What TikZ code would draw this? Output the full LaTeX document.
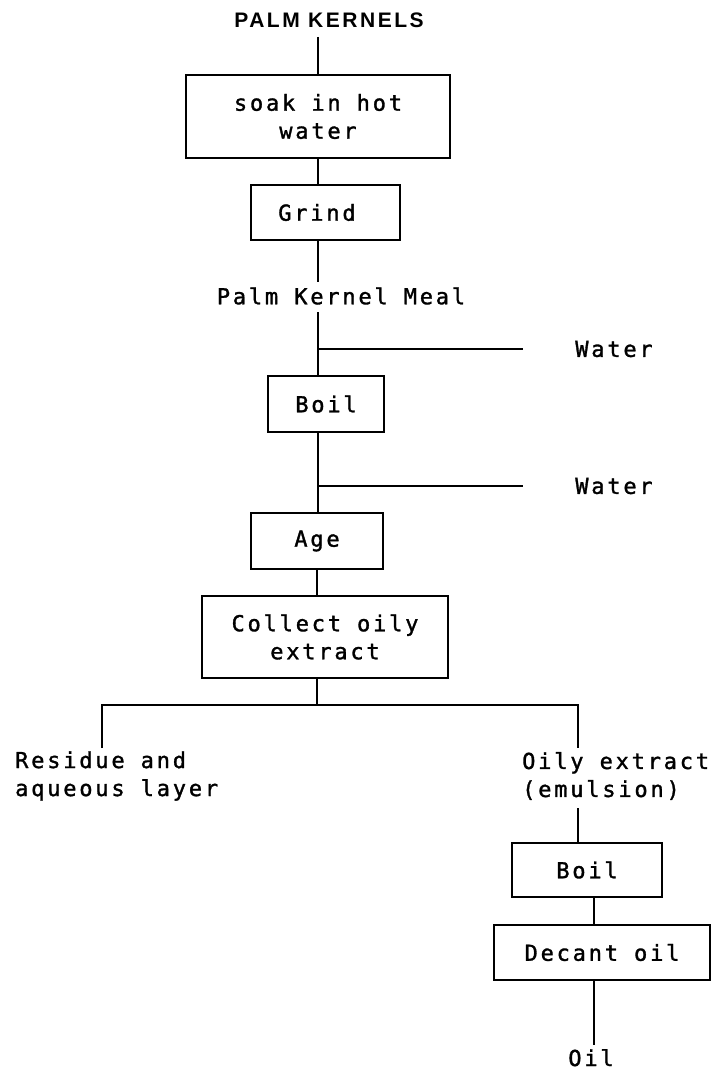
\documentclass[tikz,border=0pt]{standalone}
\usepackage{fontspec}
\newfontfamily\flowfont[LetterSpace=12.7,FakeBold=1.4]{DejaVu Sans Mono}
\newfontfamily\headfont[LetterSpace=12]{Liberation Sans}
\begin{document}
\begin{tikzpicture}[x=1pt,y=-1pt,
  every node/.style={inner sep=0pt, font=\flowfont\fontsize{22}{28}\selectfont},
  stepbox/.style={draw, line width=1.7pt, align=center},
  label text/.style={align=left, anchor=west},
  flow/.style={line width=1.7pt}]
\useasboundingbox[fill=white] (0,0) rectangle (721,1073);

% heading
\node[font=\headfont\bfseries\fontsize{21}{24}\selectfont] (title) at (329,20) {PALM KERNELS};

% process boxes
\node[stepbox, minimum width=264pt, minimum height=83pt] (soak) at (318,116.5) {soak in hot\\water};
\node[stepbox, minimum width=149pt, minimum height=55pt,
      label={[xshift=-8.5pt]center:Grind}] (grind) at (325.5,212.5) {};
\node[stepbox, minimum width=116pt, minimum height=56pt] (boil) at (326,404) {Boil};
\node[stepbox, minimum width=132pt, minimum height=56pt] (age) at (317,541) {Age};
\node[stepbox, minimum width=246pt, minimum height=82pt] (collect) at (325,637) {Collect oily\\extract};
\node[stepbox, minimum width=150pt, minimum height=54pt] (boiltwo) at (587,870) {Boil};
\node[stepbox, minimum width=216pt, minimum height=55pt] (decant) at (602,952.5) {Decant oil};

% free labels
\node (meal) at (341,296) {Palm Kernel Meal};
\node (waterA) at (614,349) {Water};
\node (waterB) at (614,486) {Water};
\node[label text] (residue) at (15,776) {Residue and\\aqueous layer};
\node[label text] (oily) at (522,776) {Oily extract\\(emulsion)};
\node[anchor=base] (oil) at (591,1066) {Oil};

% connector ends
\coordinate (tA) at (318,37);
\coordinate (gB) at (318,282);
\coordinate (mA) at (318,312);
\coordinate (jA) at (318,349);
\coordinate (wA) at (523,349);
\coordinate (jB) at (318,486);
\coordinate (wB) at (523,486);
\coordinate (split) at (317,705);
\coordinate (sL) at (102,705);
\coordinate (sR) at (578,705);
\coordinate (dL) at (102,748);
\coordinate (dR) at (578,748);
\coordinate (eA) at (578,808);
\coordinate (oA) at (594,1045);

% connectors
\draw[flow] (tA) -- (tA |- soak.north);
\draw[flow] (soak.south -| tA) -- (tA |- grind.north);
\draw[flow] (grind.south -| tA) -- (gB);
\draw[flow] (mA) -- (mA |- boil.north);
\draw[flow] (jA) -- (wA);
\draw[flow] (boil.south -| tA) -- (tA |- age.north);
\draw[flow] (jB) -- (wB);
\draw[flow] (age.south -| split) -- (split |- collect.north);
\draw[flow] (collect.south -| split) -- (split);
\draw[flow] (dL) -- (sL) -- (sR) -- (dR);
\draw[flow] (eA) -- (eA |- boiltwo.north);
\draw[flow] (boiltwo.south -| oA) -- (oA |- decant.north);
\draw[flow] (decant.south -| oA) -- (oA);
\end{tikzpicture}
\end{document}
